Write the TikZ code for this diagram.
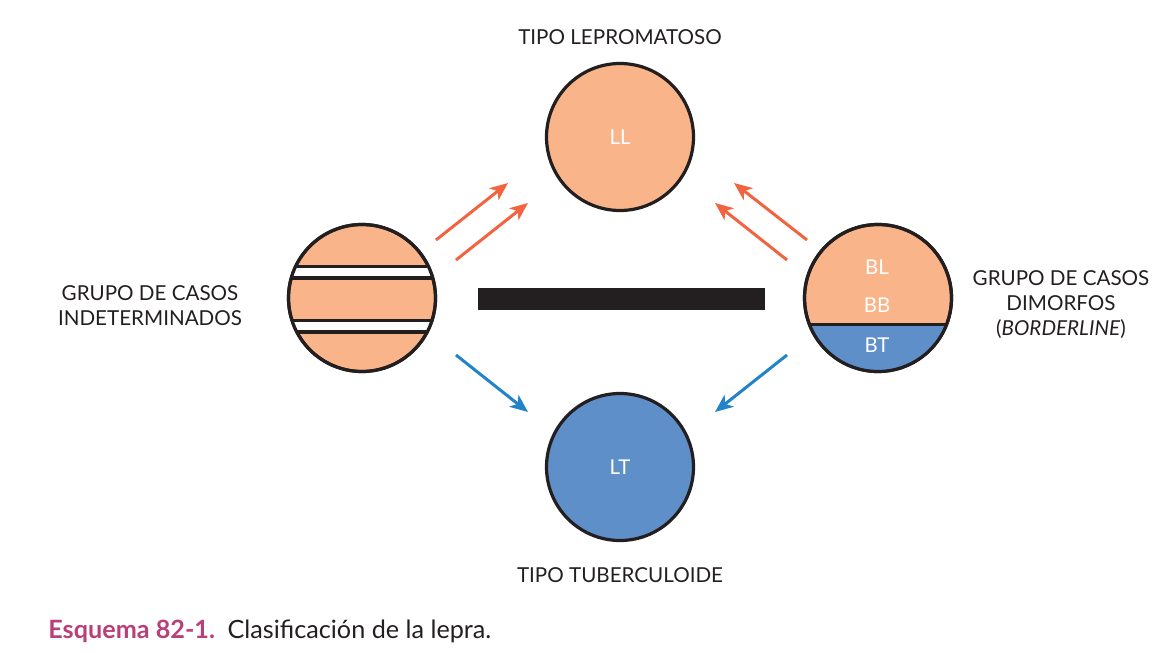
\documentclass[tikz,border=0pt]{standalone}
\usepackage{fontspec}
\setmainfont{Lato}
\usetikzlibrary{arrows.meta,positioning}
\definecolor{lepsalmon}{HTML}{F9B48A}
\definecolor{lepblue}{HTML}{5E8FC9}
\definecolor{leporange}{HTML}{F26440}
\definecolor{lepcyan}{HTML}{2383C8}
\definecolor{lepdark}{HTML}{231F20}
\definecolor{lepmagenta}{HTML}{B8407A}

\begin{document}
\begin{tikzpicture}[x=0.5pt,y=-0.5pt,
    disc/.style={circle,draw=lepdark,line width=1.6pt,minimum size=73.5pt,inner sep=0pt,
      font=\fontsize{10.2}{12}\selectfont,text=white},
    lbl/.style={font=\fontsize{10.3}{12.5}\selectfont,text=lepdark,align=center},
    intxt/.style={font=\fontsize{10.2}{12}\selectfont,text=white},
    uparrow/.style={leporange,line width=1.5pt,-{Stealth[length=9pt,width=7.5pt,inset=2.5pt]}},
    downarrow/.style={lepcyan,line width=1.5pt,-{Stealth[length=9pt,width=7.5pt,inset=2.5pt]}}]
    \useasboundingbox (0,0) rectangle (1170,652);
    % circles
    \node[disc,fill=lepsalmon] (ll) at (620,137) {LL};
    \node[disc,fill=lepblue]   (lt) at (620,467) {LT};
    \node[disc,fill=lepsalmon] (ind) at (362,298) {};
    \node[disc,fill=lepsalmon] (dim) at (878,298) {};
    % stripes of the indeterminate group
    \begin{scope}
      \clip (ind.center) circle[radius=73.5];
      \foreach \ya in {266.5,320.5}
        \draw[lepdark,line width=1.75pt,fill=white] (250,\ya) rectangle (480,\ya+11.5);
    \end{scope}
    \draw[lepdark,line width=1.6pt] (ind.center) circle[radius=73.5];
    % split of the borderline group
    \begin{scope}
      \clip (dim.center) circle[radius=73.5];
      \fill[lepblue] (790,324.5) rectangle (970,380);
      \draw[lepdark,line width=1.75pt] (790,324.5) -- (970,324.5);
    \end{scope}
    \draw[lepdark,line width=1.6pt] (dim.center) circle[radius=73.5];
    \node[intxt] (bl) at (877,267) {BL};
    \node[intxt] (bb) at (877,305) {BB};
    \node[intxt] (bt) at (877,345) {BT};
    % central bar
    \node[fill=lepdark,minimum width=143.5pt,minimum height=11pt,inner sep=0pt] (bar) at (621.5,299) {};
    % arrows
    \coordinate (a1s) at (436,240); \coordinate (a1e) at (508,183);
    \coordinate (a2s) at (456,260); \coordinate (a2e) at (528,203);
    \coordinate (b1s) at (807,240); \coordinate (b1e) at (734,183);
    \coordinate (b2s) at (787,260); \coordinate (b2e) at (715,203);
    \coordinate (cs) at (456,355);  \coordinate (ce) at (528,412);
    \coordinate (ds) at (787,355);  \coordinate (de) at (715,412);
    \draw[uparrow] (a1s) -- (a1e);
    \draw[uparrow] (a2s) -- (a2e);
    \draw[uparrow] (b1s) -- (b1e);
    \draw[uparrow] (b2s) -- (b2e);
    \draw[downarrow] (cs) -- (ce);
    \draw[downarrow] (ds) -- (de);
    % labels
    \node[lbl] (lltitle) at (620,37) {TIPO LEPROMATOSO};
    \node[lbl] (lttitle) at (620,575) {TIPO TUBERCULOIDE};
    \node[lbl] (indtitle) at (150,306) {GRUPO DE CASOS\\INDETERMINADOS};
    \node[lbl] (dimtitle) at (1061,305) {GRUPO DE CASOS\\DIMORFOS\\(\textit{BORDERLINE})};
    \node[anchor=west,inner sep=0pt,font=\fontsize{12.6}{15}\selectfont,text=lepdark] (caption) at (48,631)
      {\textcolor{lepmagenta}{\bfseries Esquema 82-1.}\enspace Clasificación de la lepra.};
\end{tikzpicture}
\end{document}
